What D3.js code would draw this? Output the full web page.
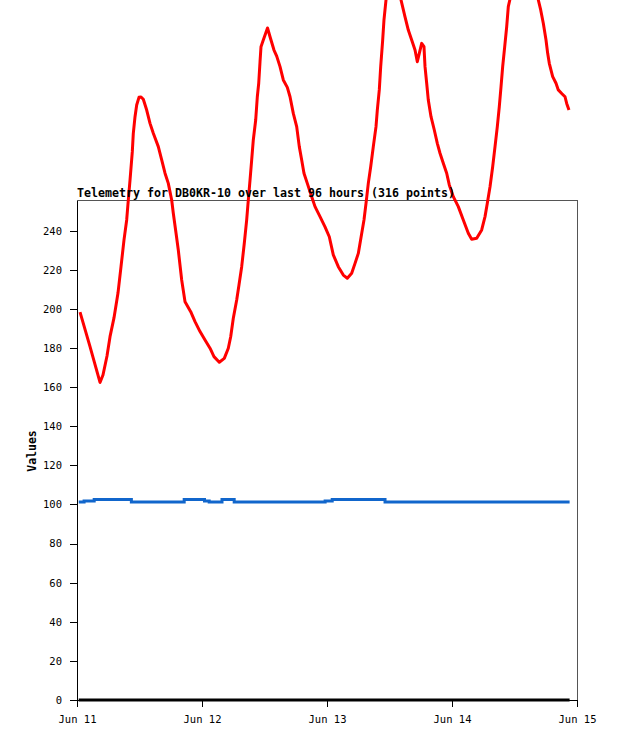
<!DOCTYPE html>
<html>
<head>
<meta charset="utf-8">
<script src="https://cdn.jsdelivr.net/npm/d3@7"></script>
<style>
  html, body { margin: 0; padding: 0; background: #fff; }
  svg { display: block; }
</style>
</head>
<body>
<div id="chart"></div>
<script>
// ---- data (hours since Jun 11 00:00 UTC) ----
const titleText = "Telemetry for DB0KR-10 over last 96 hours (316 points)";
const yLabel = "Values";
const yTicks = [0, 20, 40, 60, 80, 100, 120, 140, 160, 180, 200, 220, 240];
const xTickLabels = ["Jun 11", "Jun 12", "Jun 13", "Jun 14", "Jun 15"];

const redHours = [0.58, 2.50, 4.42, 4.99, 5.76, 6.34, 7.10, 7.87, 8.45, 9.02, 9.54, 9.85, 10.18, 10.62, 10.81, 11.14, 11.46, 11.90, 12.29, 12.73, 13.38, 14.02, 14.65, 15.61, 16.26, 16.90, 17.53, 18.18, 18.49, 19.01, 19.45, 20.10, 20.74, 21.83, 22.66, 23.62, 24.58, 25.54, 26.30, 27.32, 28.28, 29.05, 29.51, 30.01, 30.66, 31.10, 31.62, 32.12, 32.58, 32.89, 33.22, 33.54, 33.85, 34.31, 34.62, 34.89, 35.14, 35.33, 35.77, 36.58, 37.06, 37.82, 38.34, 38.98, 39.61, 40.38, 40.90, 41.53, 42.18, 42.68, 43.14, 43.58, 44.22, 45.06, 45.70, 46.66, 47.62, 48.44, 49.21, 50.17, 51.13, 51.90, 52.74, 53.38, 54.01, 54.66, 55.10, 55.49, 55.93, 56.39, 56.89, 57.41, 57.66, 58.04, 58.31, 58.69, 58.94, 59.33, 60.67, 62.21, 62.98, 63.61, 64.26, 64.90, 65.34, 65.72, 66.18, 66.62, 66.82, 67.14, 67.45, 67.97, 68.60, 69.18, 69.70, 70.33, 70.98, 71.48, 72.25, 73.21, 74.17, 75.13, 75.78, 76.74, 77.70, 78.34, 78.78, 79.30, 79.81, 80.26, 80.70, 81.08, 81.41, 81.73, 82.12, 82.50, 82.81, 85.63, 88.57, 89.03, 89.53, 90.05, 90.37, 90.68, 91.33, 91.97, 92.41, 93.06, 93.70, 94.02, 94.46];
const redValues = [198.4, 180.7, 162.4, 166.2, 175.9, 185.8, 195.4, 208.1, 221.6, 235.2, 245.5, 255.7, 265.9, 280.4, 289.8, 298.3, 304.3, 308.2, 308.4, 307.2, 301.7, 294.9, 289.8, 283.0, 276.2, 269.4, 264.2, 255.7, 248.9, 238.8, 230.1, 214.8, 203.7, 198.6, 193.5, 188.4, 184.1, 179.9, 175.6, 172.7, 174.7, 179.9, 185.8, 195.2, 204.6, 212.2, 221.6, 233.6, 245.5, 255.7, 265.9, 276.2, 286.4, 296.6, 308.5, 315.4, 326.4, 334.1, 337.5, 343.7, 339.2, 332.4, 329.3, 323.9, 317.1, 313.3, 308.5, 300.0, 293.2, 283.0, 276.2, 269.4, 264.2, 257.4, 252.3, 247.2, 242.0, 236.9, 227.6, 221.6, 217.3, 215.7, 218.2, 223.3, 228.4, 238.6, 245.5, 254.0, 264.2, 272.7, 283.0, 293.2, 301.7, 312.0, 323.9, 337.5, 347.8, 358.0, 376.0, 358.0, 349.4, 342.6, 337.5, 332.4, 326.4, 330.7, 335.8, 334.1, 323.9, 315.4, 306.8, 298.3, 291.5, 284.7, 279.6, 274.5, 269.4, 263.4, 257.4, 252.3, 245.5, 238.7, 235.6, 236.1, 240.4, 247.2, 254.0, 262.5, 272.7, 283.0, 293.2, 303.4, 313.6, 323.9, 334.1, 344.3, 354.6, 388.0, 358.0, 352.9, 346.1, 337.5, 330.7, 325.6, 318.8, 315.4, 312.0, 310.2, 308.5, 305.1, 301.7];

const blueHours = [0.33, 1.36, 3.30, 10.44, 20.58, 24.48, 25.38, 27.84, 30.18, 47.64, 49.00, 59.14, 94.58];
const blueValues = [101.2, 101.8, 102.5, 101.3, 102.5, 101.8, 101.3, 102.5, 101.3, 101.8, 102.5, 101.3, 101.3];

const zeroHours = [0.33, 94.58];
const zeroValues = [0, 0];

// ---- layout ----
const W = 618, H = 741;
const plot = { left: 77, right: 577, top: 200, bottom: 700 };
const t0 = Date.UTC(2024, 5, 11);
const toDate = h => new Date(t0 + h * 3600000);

const x = d3.scaleUtc()
  .domain([new Date(t0), new Date(Date.UTC(2024, 5, 15))])
  .range([plot.left, plot.right]);
const y = d3.scaleLinear().domain([0, 255.7]).range([plot.bottom, plot.top]);

const svg = d3.select("#chart").append("svg")
  .attr("width", W).attr("height", H);

// frame (top & right grey)
svg.append("path")
  .attr("d", `M${plot.left},${plot.top}H${plot.right}V${plot.bottom}`)
  .attr("fill", "none").attr("stroke", "#555").attr("stroke-width", 1)
  .attr("shape-rendering", "crispEdges");

const tickFont = "'DejaVu Sans Mono', 'Liberation Mono', monospace";

// y axis
const yAxis = svg.append("g")
  .attr("transform", `translate(${plot.left},0)`)
  .call(d3.axisLeft(y).tickValues(yTicks).tickSize(7).tickPadding(8).tickSizeOuter(0));
yAxis.select(".domain").attr("stroke", "#000").attr("shape-rendering", "crispEdges");
yAxis.selectAll(".tick line").attr("stroke", "#000").attr("shape-rendering", "crispEdges");
yAxis.selectAll(".tick text").attr("font-family", tickFont).attr("font-size", "10.5px").attr("fill", "#000");

// x axis
const xTickDates = xTickLabels.map((_, i) => toDate(i * 24));
const xAxis = svg.append("g")
  .attr("transform", `translate(0,${plot.bottom})`)
  .call(d3.axisBottom(x).tickValues(xTickDates)
    .tickFormat((d, i) => xTickLabels[i]).tickSize(7).tickPadding(9).tickSizeOuter(0));
xAxis.select(".domain").attr("stroke", "#000").attr("shape-rendering", "crispEdges");
xAxis.selectAll(".tick line").attr("stroke", "#000").attr("shape-rendering", "crispEdges");
xAxis.selectAll(".tick text").attr("font-family", tickFont).attr("font-size", "10.5px").attr("fill", "#000");

// lines
const line = d3.line().x(d => x(toDate(d[0]))).y(d => y(d[1]));
const stepLine = d3.line().x(d => x(toDate(d[0]))).y(d => y(d[1])).curve(d3.curveStepAfter);

svg.append("path")
  .datum(zeroHours.map((h, i) => [h, zeroValues[i]]))
  .attr("d", line).attr("fill", "none").attr("stroke", "#000").attr("stroke-width", 3);

svg.append("path")
  .datum(blueHours.map((h, i) => [h, blueValues[i]]))
  .attr("d", stepLine).attr("fill", "none").attr("stroke", "#1166cc").attr("stroke-width", 3);

svg.append("path")
  .datum(redHours.map((h, i) => [h, redValues[i]]))
  .attr("d", line).attr("fill", "none").attr("stroke", "#ff0000").attr("stroke-width", 3)
  .attr("stroke-linejoin", "round");

// title
svg.append("text")
  .attr("x", plot.left).attr("y", 197)
  .attr("font-family", tickFont).attr("font-weight", "bold").attr("font-size", "11.5px")
  .attr("textLength", 378).attr("lengthAdjust", "spacingAndGlyphs")
  .text(titleText);

// y label
svg.append("text")
  .attr("transform", "translate(36,451) rotate(-90)")
  .attr("text-anchor", "middle")
  .attr("font-family", tickFont).attr("font-weight", "bold").attr("font-size", "11.5px")
  .text(yLabel);
</script>
</body>
</html>
